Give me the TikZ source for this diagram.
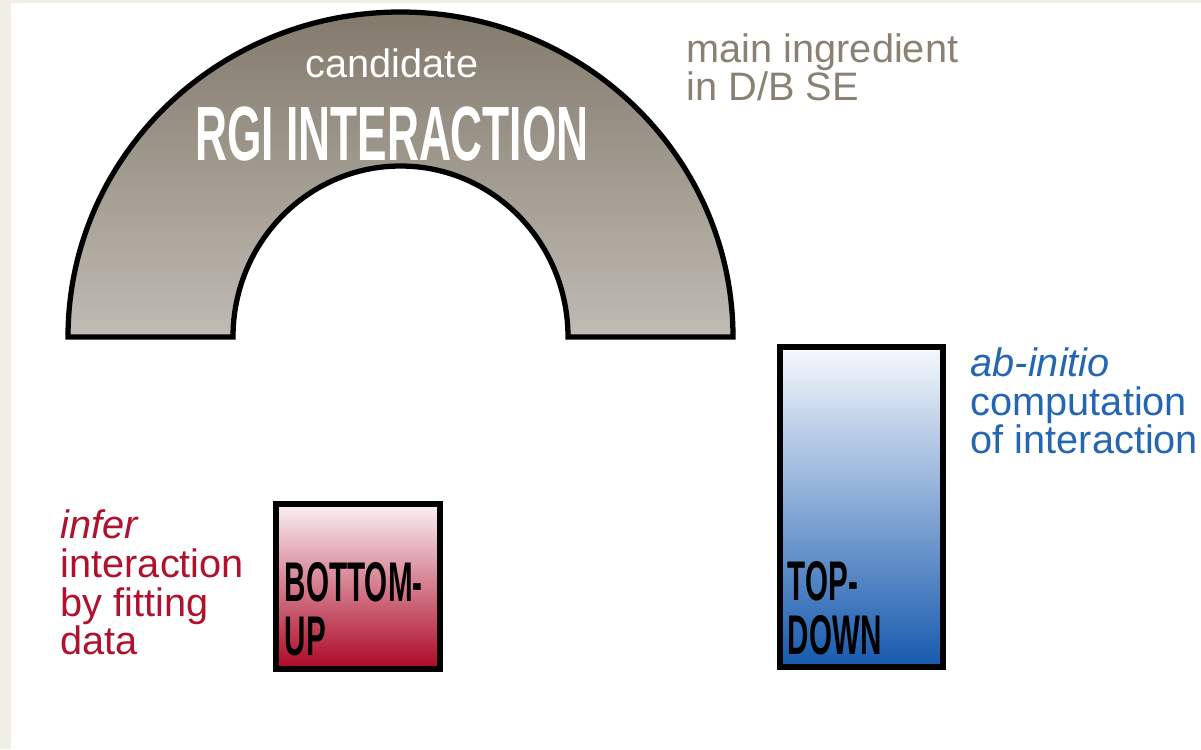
\documentclass[tikz,border=0pt]{standalone}
\usepackage{graphicx}
\usepackage{fontspec}
\setmainfont{Liberation Sans}
\usepackage{tikz}
\usetikzlibrary{positioning}

\definecolor{strip}{RGB}{239,239,231}
\definecolor{archtop}{RGB}{131,122,108}
\definecolor{archbot}{RGB}{192,187,180}
\definecolor{redtop}{RGB}{250,240,243}
\definecolor{redbot}{RGB}{173,7,38}
\definecolor{bluetop}{RGB}{246,249,252}
\definecolor{bluebot}{RGB}{22,89,174}
\definecolor{redtext}{RGB}{176,18,46}
\definecolor{bluetext}{RGB}{37,102,179}
\definecolor{greytext}{RGB}{139,129,114}

\newcommand{\cond}[2][0.53]{\scalebox{#1}[1]{\bfseries #2}}

\begin{document}
\begin{tikzpicture}[
    txt/.style={font=\fontsize{11.3}{11}\selectfont, align=left, inner sep=0pt},
    box/.style={draw=black, line width=1.6pt, inner sep=0pt},
    boxlabel/.style={font=\fontsize{15.9}{15.4}\selectfont, align=left, inner sep=0pt, text=black}
]
    \useasboundingbox (0,0) rectangle (12.01,7.49);
    \fill[strip] (0,0) rectangle (12.01,7.49);
    \fill[white] (0.11,0) rectangle (12.01,7.46);

    \draw[line width=1.5pt, top color=archtop, bottom color=archbot]
        (0.68,4.12) arc[start angle=180, end angle=0, x radius=3.325, y radius=3.25]
        -- (5.68,4.12) arc[start angle=0, end angle=180, x radius=1.675, y radius=1.71]
        -- cycle;
    \node[txt, text=white, anchor=base] (cand) at (3.92,6.72) {candidate};
    \node[inner sep=0pt, text=white, anchor=base, font=\fontsize{21.9}{22}\selectfont]
        (rgi) at (3.92,5.89) {\cond[0.575]{RGI INTERACTION}};
    \node[txt, text=greytext, anchor=south west] (ingr) at (6.86,6.47)
        {main ingredient\\in D/B SE};

    \node[box, top color=redtop, bottom color=redbot,
        minimum width=1.64cm, minimum height=1.65cm] (bottomup) at (3.58,1.625) {};
    \node[boxlabel, above right=0.15cm and 0.11cm of bottomup.south west, anchor=south west]
        (bulabel) {\cond{BOTTOM-}\\\cond{UP}};
    \node[txt, text=redtext, anchor=south west] (infer) at (0.60,0.93)
        {\textit{infer}\\interaction\\by fitting\\data};

    \node[box, top color=bluetop, bottom color=bluebot,
        minimum width=1.63cm, minimum height=3.20cm] (topdown) at (8.615,2.42) {};
    \node[boxlabel, above right=0.14cm and 0.10cm of topdown.south west, anchor=south west]
        (tdlabel) {\cond{TOP-}\\\cond{DOWN}};
    \node[txt, text=bluetext, anchor=south west] (abinit) at (9.70,2.94)
        {\textit{ab-initio}\\computation\\of interaction};
\end{tikzpicture}
\end{document}
